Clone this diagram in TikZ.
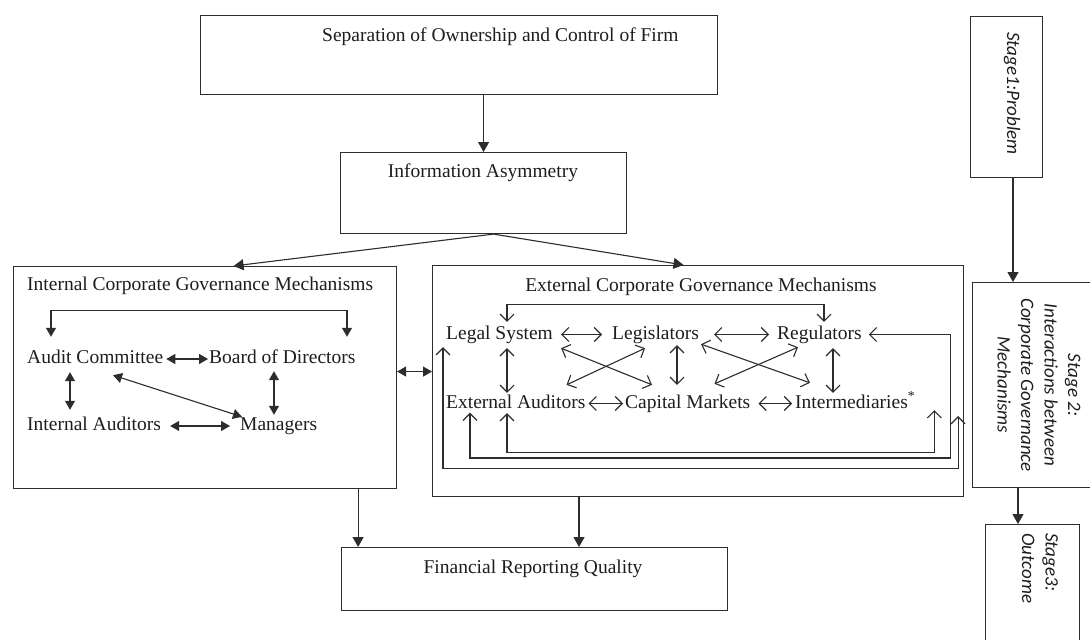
\documentclass[tikz,border=0pt]{standalone}
\usepackage{fontspec}
\setmainfont{Liberation Serif}
\newfontfamily\stagefont{Carlito}[UprightFont=* Italic]
\usetikzlibrary{arrows.meta}
\definecolor{lc}{RGB}{45,45,45}
\definecolor{tc}{RGB}{30,30,30}
\begin{document}
\begin{tikzpicture}[x=1pt,y=-1pt,
  ln/.style={draw=lc, line width=1.1pt},
  box/.style={draw=lc, line width=1.1pt, anchor=north west, inner sep=0pt},
  txt/.style={inner sep=0pt, text height=13.5pt, text depth=4.5pt, anchor=base west,
    font=\fontsize{19.5}{23}\selectfont, text=tc},
  stg/.style={rotate=-90, inner sep=0pt, font=\stagefont\fontsize{19}{23.5}\selectfont, text=tc},
  sarr/.style={-{Triangle[length=10pt,width=11pt]}},
  darr/.style={{Triangle[length=9pt,width=10pt]}-{Triangle[length=9pt,width=10pt]}},
  oarr/.style={{Straight Barb[length=7pt,width=14pt]}-{Straight Barb[length=7pt,width=14pt]}}
]
\useasboundingbox (0,0) rectangle (1090,640);
\clip (0,0) rectangle (1090,640);
\fill[white] (0,0) rectangle (1090,640);

% main boxes
\node[box, minimum width=517pt, minimum height=79pt] (sep) at (200,15) {};
\node[txt] (septxt) at (322,41) {Separation of Ownership and Control of Firm};
\node[box, minimum width=286pt, minimum height=81pt] (info) at (340,152) {};
\node[txt, anchor=base] (infotxt) at (483,177) {Information Asymmetry};
\node[box, minimum width=383pt, minimum height=222pt] (intbox) at (13,266) {};
\node[txt] (inttitle) at (27,290) {Internal Corporate Governance Mechanisms};
\node[box, minimum width=531pt, minimum height=231pt] (extbox) at (432,265) {};
\node[txt, anchor=base] (exttitle) at (701,291) {External Corporate Governance Mechanisms};
\node[box, minimum width=386pt, minimum height=63pt] (frq) at (341,547) {};
\node[txt, anchor=base] (frqtxt) at (533,573) {Financial Reporting Quality};

% stage boxes
\node[box, minimum width=72pt, minimum height=161pt] (s1) at (970,16) {};
\node[stg, anchor=west] (s1txt) at (1012,32) {Stage1:Problem};
\node[box, minimum width=128pt, minimum height=205pt] (s2) at (972,282) {};
\node[stg, align=center] (s2txt) at (1039,385) {Stage 2:\\Interactions between\\Corporate Governance\\Mechanisms};
\node[box, minimum width=94pt, minimum height=130pt] (s3) at (985,524) {};
\node[stg, align=left, anchor=west] (s3txt) at (1040,533) {Stage3:\\Outcome};

% main connectors
\draw[ln, sarr] (sep.south -| info.north) -- (info.north);
\draw[ln, sarr] ([xshift=10pt]info.south) -- ([xshift=28.5pt]intbox.north);
\draw[ln, sarr] ([xshift=10pt]info.south) -- ([xshift=-14.5pt]extbox.north);
\coordinate (ifr) at ([xshift=-39pt]intbox.south east);
\draw[ln, sarr] (ifr) -- (ifr |- frq.north);
\coordinate (efr) at ([xshift=147pt]extbox.south west);
\draw[ln, sarr] (efr) -- (efr |- frq.north);
\coordinate (ie) at ([yshift=6pt]intbox.east);
\draw[ln, darr] (ie) -- (ie -| extbox.west);
\coordinate (s12) at ([xshift=43pt]s1.south west);
\draw[ln, sarr] (s12) -- (s12 |- s2.north);
\coordinate (s23) at ([xshift=46pt]s2.south west);
\draw[ln, sarr] (s23) -- (s23 |- s3.north);

% internal mechanisms
\node[txt] (ac) at (27,363.5) {Audit Committee};
\node[txt] (bod) at (209,363.5) {Board of Directors};
\node[txt] (ia) at (27,430.5) {Internal Auditors};
\node[txt] (mgr) at (240,430.5) {Managers};
\draw[ln, darr] ([xshift=3pt]ac.east) -- ([xshift=-1pt]bod.west);
\draw[ln, darr] ([xshift=43pt,yshift=-4pt]ac.south west) -- ([xshift=43pt,yshift=7pt]ia.north west);
\draw[ln, darr] ([xshift=9pt]ia.east) -- ([xshift=-10pt]mgr.west);
\draw[ln, darr] ([xshift=65pt,yshift=-3pt]bod.south west) -- ([xshift=34pt,yshift=2pt]mgr.north west);
\draw[ln, darr] ([xshift=86pt,yshift=-7pt]ac.south west) -- ([xshift=2pt]mgr.north west);
\draw[ln, darr] ([xshift=24pt,yshift=13pt]ac.north west) -- ++(0,-26) -| ([xshift=138pt,yshift=13pt]bod.north west);

% external mechanisms
\node[txt] (ls) at (446,339) {Legal System};
\node[txt] (leg) at (612,339) {Legislators};
\node[txt] (reg) at (777,339) {Regulators};
\node[txt] (ea) at (446,408) {External Auditors};
\node[txt] (cm) at (625,408) {Capital Markets};
\node[txt] (itm) at (795,408) {Intermediaries\textsuperscript{*}};
\draw[ln, oarr] ([xshift=8pt]ls.east) -- ([xshift=-10pt]leg.west);
\draw[ln, oarr] ([xshift=15pt]leg.east) -- ([xshift=-8pt]reg.west);
\draw[ln, oarr] ([xshift=3pt]ea.east) -- ([xshift=-2pt]cm.west);
\draw[ln, oarr] ([xshift=8pt]cm.east) -- ([xshift=-3pt]itm.west);
\draw[ln, oarr] ([xshift=61pt,yshift=-4.5pt]ls.south west) -- ([xshift=61pt,yshift=1.5pt]ea.north west);
\draw[ln, oarr] ([xshift=65pt,yshift=-1.5pt]leg.south west) -- ([xshift=52pt,yshift=9.5pt]cm.north west);
\draw[ln, oarr] ([xshift=56pt,yshift=-4.5pt]reg.south west) -- ([xshift=38pt,yshift=1.5pt]itm.north west);
\draw[ln, oarr] ([xshift=8pt,yshift=-4.5pt]ls.south east) -- ([xshift=27pt,yshift=9.5pt]cm.north west);
\draw[ln, oarr] ([xshift=33pt,yshift=-4.5pt]leg.south west) -- ([xshift=-19pt,yshift=9.5pt]ea.north east);
\draw[ln, oarr] ([xshift=2pt,yshift=-0.5pt]leg.south east) -- ([xshift=15pt,yshift=11.5pt]itm.north west);
\draw[ln, oarr] ([xshift=21pt,yshift=-3.5pt]reg.south west) -- ([xshift=-36pt,yshift=10.5pt]cm.north east);
\draw[ln, oarr] ([xshift=61pt,yshift=3.5pt]ls.north west) -- ++(0,-17) -| ([xshift=47pt,yshift=3.5pt]reg.north west);
% loops
\draw[ln, oarr] ([xshift=61pt,yshift=-0.5pt]ea.south west) -- ++(0,39) -| ([xshift=19pt,yshift=2.5pt]itm.south east);
\draw[ln, oarr] ([xshift=7pt]reg.east) -- ++(82,0) -- ++(0,123.5) -| ([xshift=24pt]ea.south west);
\draw[ln, oarr] ([xshift=-3pt,yshift=-3.5pt]ls.south west) -- ++(0,121) -| ([xshift=-6pt,yshift=81pt]extbox.south east);
\end{tikzpicture}
\end{document}
